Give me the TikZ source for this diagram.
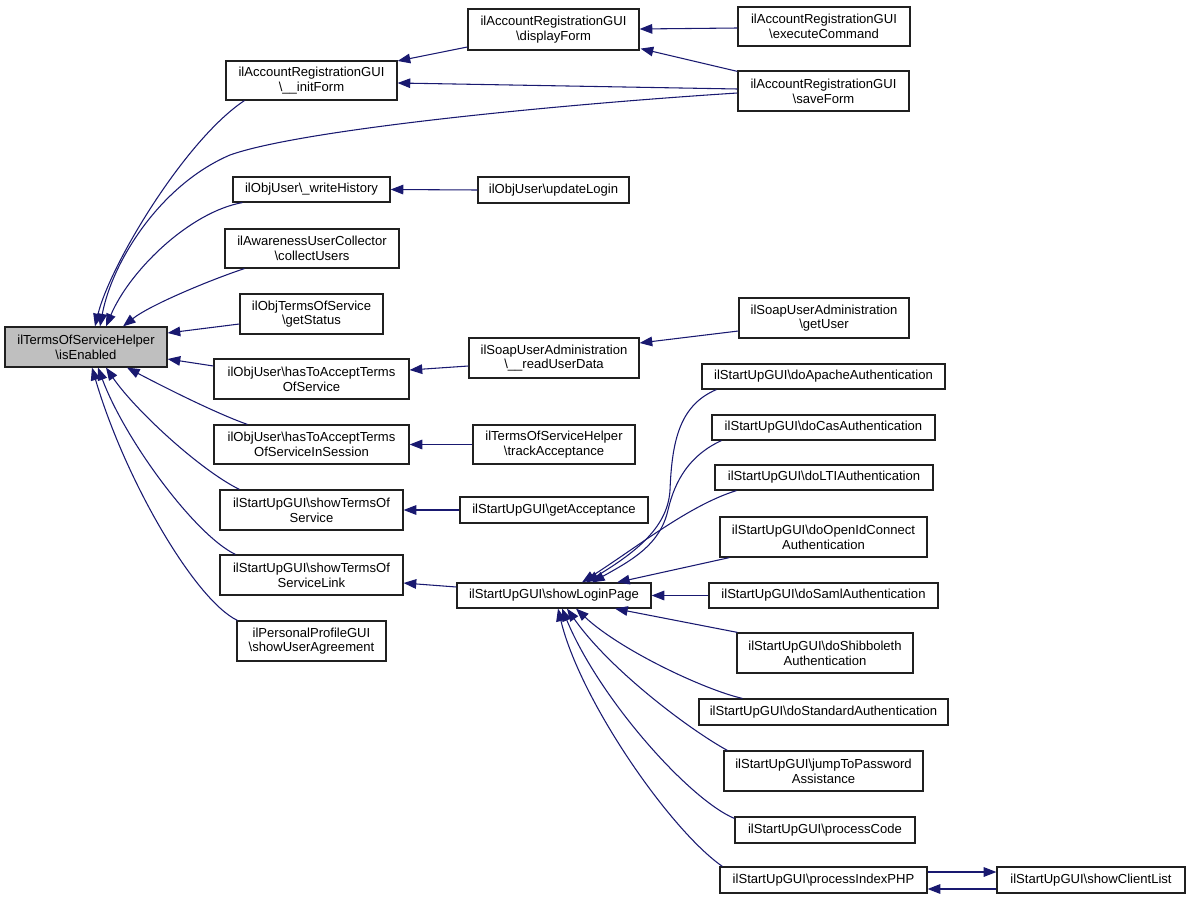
\documentclass[tikz,border=0pt]{standalone}
\usepackage{fontspec}
\setmainfont{Liberation Sans}
\usetikzlibrary{arrows.meta,calc}
\definecolor{edgecol}{HTML}{191970}
\definecolor{hilite}{HTML}{BFBFBF}
\definecolor{boxline}{HTML}{202020}
\newcommand{\bs}{\textbackslash{}}
\tikzset{
  box/.style={draw=boxline, line width=0.9pt, fill=white, rectangle, inner sep=0pt, align=center,
    font=\fontsize{9.8}{11}\selectfont},
  bw/.style={minimum width=#1*0.75pt},
  bh/.style={minimum height=#1*0.75pt},
  conn/.style={draw=edgecol, line width=0.8pt, -{Triangle[length=9.5pt,width=7.2pt]}},
}
\begin{document}
\begin{tikzpicture}[x=0.75pt,y=-0.75pt]
\useasboundingbox (0,0) rectangle (1189,899);
% column 1
\node[box,bw=162,bh=40,fill=hilite] (isEnabled) at (86,347) {ilTermsOfServiceHelper\\\bs isEnabled};
% column 2
\node[box,bw=171,bh=39] (initForm) at (311.5,80.5) {ilAccountRegistrationGUI\\\bs\_\_initForm};
\node[box,bw=157,bh=25] (writeHistory) at (311.5,189.5) {ilObjUser\bs\_writeHistory};
\node[box,bw=174,bh=39] (collectUsers) at (312,248.5) {ilAwarenessUserCollector\\\bs collectUsers};
\node[box,bw=143,bh=40] (getStatus) at (311.5,314) {ilObjTermsOfService\\\bs getStatus};
\node[box,bw=195,bh=40] (hasToAccept) at (311.5,379) {ilObjUser\bs hasToAcceptTerms\\OfService};
\node[box,bw=195,bh=39] (inSession) at (311.5,444.5) {ilObjUser\bs hasToAcceptTerms\\OfServiceInSession};
\node[box,bw=183,bh=40] (showTOS) at (311.5,510) {ilStartUpGUI\bs showTermsOf\\Service};
\node[box,bw=183,bh=40] (showTOSLink) at (311.5,575) {ilStartUpGUI\bs showTermsOf\\ServiceLink};
\node[box,bw=149,bh=40] (userAgreement) at (311.5,641) {ilPersonalProfileGUI\\\bs showUserAgreement};
% column 3
\node[box,bw=171,bh=41] (displayForm) at (553.5,29.5) {ilAccountRegistrationGUI\\\bs displayForm};
\node[box,bw=151,bh=26] (updateLogin) at (553.5,190) {ilObjUser\bs updateLogin};
\node[box,bw=170,bh=40] (readUserData) at (554,358) {ilSoapUserAdministration\\\bs\_\_readUserData};
\node[box,bw=162,bh=39] (trackAcceptance) at (554,444.5) {ilTermsOfServiceHelper\\\bs trackAcceptance};
\node[box,bw=188,bh=26] (getAcceptance) at (554,510) {ilStartUpGUI\bs getAcceptance};
\node[box,bw=194,bh=25] (showLoginPage) at (554,595.5) {ilStartUpGUI\bs showLoginPage};
% column 4
\node[box,bw=172,bh=39] (executeCommand) at (824,26.5) {ilAccountRegistrationGUI\\\bs executeCommand};
\node[box,bw=171,bh=40] (saveForm) at (823.5,91) {ilAccountRegistrationGUI\\\bs saveForm};
\node[box,bw=170,bh=40] (getUser) at (824,318) {ilSoapUserAdministration\\\bs getUser};
\node[box,bw=243,bh=25] (doApache) at (823.5,376.5) {ilStartUpGUI\bs doApacheAuthentication};
\node[box,bw=223,bh=25] (doCas) at (823.5,427.5) {ilStartUpGUI\bs doCasAuthentication};
\node[box,bw=218,bh=25] (doLTI) at (824,477.5) {ilStartUpGUI\bs doLTIAuthentication};
\node[box,bw=207,bh=40] (doOpenId) at (823.5,537) {ilStartUpGUI\bs doOpenIdConnect\\Authentication};
\node[box,bw=229,bh=25] (doSaml) at (823.5,595.5) {ilStartUpGUI\bs doSamlAuthentication};
\node[box,bw=176,bh=40] (doShib) at (825,653) {ilStartUpGUI\bs doShibboleth\\Authentication};
\node[box,bw=249,bh=26] (doStandard) at (823.5,712) {ilStartUpGUI\bs doStandardAuthentication};
\node[box,bw=199,bh=40] (jumpToPw) at (823.5,771) {ilStartUpGUI\bs jumpToPassword\\Assistance};
\node[box,bw=180,bh=26] (processCode) at (825,830) {ilStartUpGUI\bs processCode};
\node[box,bw=207,bh=26] (processIndex) at (823.5,880) {ilStartUpGUI\bs processIndexPHP};
% column 5
\node[box,bw=188,bh=26] (showClientList) at (1091,880) {ilStartUpGUI\bs showClientList};

% edges into isEnabled
\draw[conn] ($(initForm.south west)+(19,0)$) .. controls (185,140) and (110,265) .. ($(isEnabled.north)+(9,0)$);
\draw[conn] ($(saveForm.west)+(0,2)$) .. controls (550,105) and (300,130) .. (230,155)
   .. controls (160,185) and (112,262) .. ($(isEnabled.north)+(14,0)$);
\draw[conn] ($(writeHistory.south west)+(10,0)$) .. controls (190,212) and (130,270) .. ($(isEnabled.north)+(20,0)$);
\draw[conn] ($(collectUsers.south west)+(20,0)$) .. controls (210,280) and (150,305) .. ($(isEnabled.north)+(37,0)$);
\draw[conn] ($(getStatus.west)+(0,10)$) -- ($(isEnabled.east)+(0,-14)$);
\draw[conn] ($(hasToAccept.west)+(0,-13)$) -- ($(isEnabled.east)+(0,12)$);
\draw[conn] ($(inSession.north west)+(34,0)$) .. controls (215,413) and (160,385) .. ($(isEnabled.south)+(41,0)$);
\draw[conn] ($(showTOS.north west)+(20,0)$) .. controls (200,470) and (135,410) .. ($(isEnabled.south)+(20,0)$);
\draw[conn] ($(showTOSLink.north west)+(16,0)$) .. controls (195,535) and (125,440) .. ($(isEnabled.south)+(12,0)$);
\draw[conn] ($(userAgreement.north west)+(1,0)$) .. controls (195,600) and (125,480) .. ($(isEnabled.south)+(6,0)$);

% upper right edges
\draw[conn] ($(displayForm.west)+(0,17.5)$) -- ($(initForm.east)+(0,-19.5)$);
\draw[conn] ($(saveForm.west)+(0,-2)$) -- ($(initForm.east)+(0,2.5)$);
\draw[conn] ($(executeCommand.west)+(0,1.5)$) -- ($(displayForm.east)+(0,-0.5)$);
\draw[conn] ($(saveForm.north west)+(0,1)$) -- ($(displayForm.south east)+(1,-2)$);
\draw[conn] (updateLogin.west) -- (writeHistory.east);
\draw[conn] ($(readUserData.west)+(0,8)$) -- ($(hasToAccept.east)+(0,-9)$);
\draw[conn] ($(getUser.west)+(0,13)$) -- ($(readUserData.east)+(0,-15)$);
\draw[conn] (trackAcceptance.west) -- (inSession.east);
\draw[conn] (getAcceptance.west) -- (showTOS.east);
\draw[conn] ($(showLoginPage.west)+(0,-8.5)$) -- ($(showTOSLink.east)+(0,8)$);

% edges into showLoginPage
\draw[conn] ($(doApache.south west)+(15,0)$) .. controls (680,405) and (672,440) .. (670,490)
   .. controls (668,525) and (640,550) .. ($(showLoginPage.north)+(32,0)$);
\draw[conn] ($(doCas.south west)+(10,0)$) .. controls (690,455) and (675,480) .. (668,510)
   .. controls (660,545) and (632,560) .. ($(showLoginPage.north)+(38,0)$);
\draw[conn] ($(doLTI.south west)+(22,0)$) .. controls (690,505) and (640,545) .. ($(showLoginPage.north)+(28,0)$);
\draw[conn] ($(doOpenId.south west)+(10,0)$) -- ($(showLoginPage.north)+(63,0)$);
\draw[conn] (doSaml.west) -- (showLoginPage.east);
\draw[conn] ($(doShib.north west)+(1,0)$) -- ($(showLoginPage.south)+(61,0)$);
\draw[conn] ($(doStandard.north west)+(44,0)$) .. controls (705,690) and (620,650) .. ($(showLoginPage.south)+(22,0)$);
\draw[conn] ($(jumpToPw.north west)+(4,0)$) .. controls (690,730) and (610,670) .. ($(showLoginPage.south)+(13,0)$);
\draw[conn] ($(processCode.north west)+(0,2)$) .. controls (690,800) and (600,700) .. ($(showLoginPage.south)+(8,0)$);
\draw[conn] ($(processIndex.north west)+(3,0)$) .. controls (670,830) and (580,700) .. ($(showLoginPage.south)+(4,0)$);

% processIndexPHP <-> showClientList
\draw[conn] ($(processIndex.east)+(0,-8)$) -- ($(showClientList.west)+(0,-8)$);
\draw[conn] ($(showClientList.west)+(0,9)$) -- ($(processIndex.east)+(0,9)$);
\end{tikzpicture}
\end{document}
